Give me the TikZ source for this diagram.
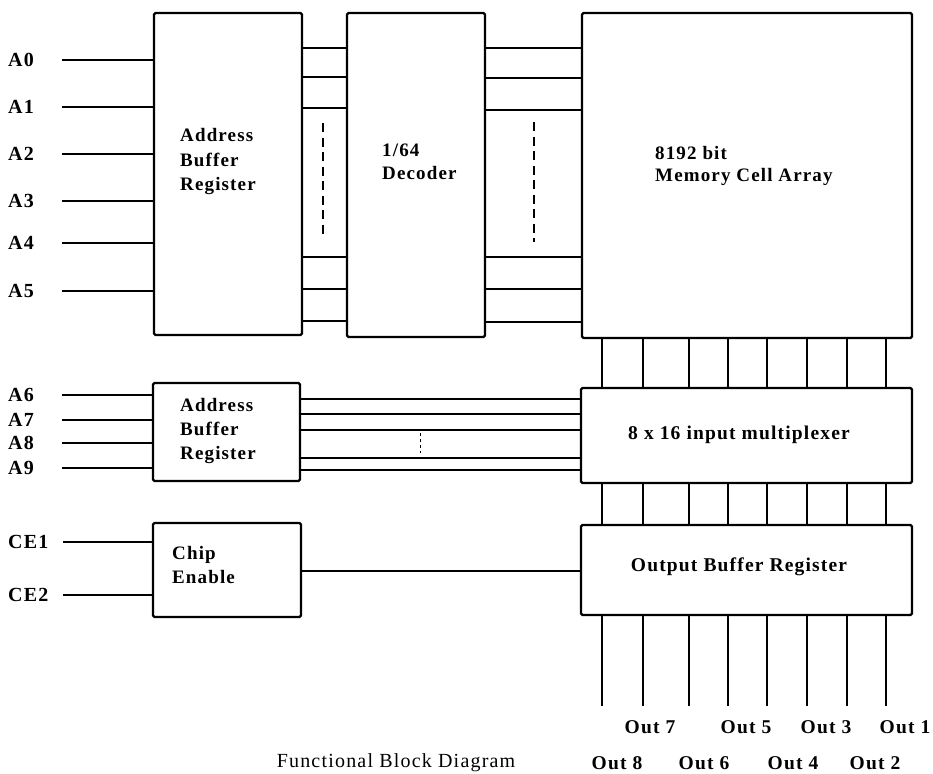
\documentclass[tikz,border=0pt]{standalone}
\usepackage{fontspec}
\setmainfont{Liberation Serif}
\newfontfamily\labfont[LetterSpace=6]{Liberation Serif}
\begin{document}
\begin{tikzpicture}[x=1pt,y=-1pt,
  box/.style={draw, line width=2.2pt, rounded corners=1.5pt, inner sep=0pt, outer sep=0pt, anchor=north west},
  wire/.style={line width=1.3pt},
  dots/.style={line width=1.3pt, dash pattern=on 9pt off 5.5pt},
  lab/.style={font=\labfont\bfseries\fontsize{20}{22}\selectfont, inner sep=0pt, anchor=west},
  bodytxt/.style={font=\labfont\bfseries\fontsize{19.5}{22}\selectfont, inner sep=0pt},
  txt/.style={inner sep=0pt, anchor=west, align=left},
  captionstyle/.style={font=\labfont\fontsize{20}{22}\selectfont, inner sep=0pt},
]
\useasboundingbox (0,0) rectangle (933,773);

% boxes
\node[box, minimum width=148pt, minimum height=322pt] (abr1) at (154,13) {};
\node[box, minimum width=138pt, minimum height=324pt] (dec) at (347,13) {};
\node[box, minimum width=330pt, minimum height=325pt] (mem) at (582,13) {};
\node[box, minimum width=147pt, minimum height=98pt] (abr2) at (153,383) {};
\node[box, minimum width=331pt, minimum height=95pt] (mux) at (581,388) {};
\node[box, minimum width=148pt, minimum height=94pt] (chip) at (153,523) {};
\node[box, minimum width=331pt, minimum height=90pt] (obr) at (581,525) {};

% box texts
\node[txt, font=\labfont\bfseries\fontsize{19}{24.5}\selectfont] (t1) at (180,162) {Address\\Buffer\\Register};
\node[txt, font=\labfont\bfseries\fontsize{19}{23}\selectfont] (t2) at (382,162) {1/64\\Decoder};
\node[txt, font=\labfont\bfseries\fontsize{19}{22}\selectfont] (t3) at (655,166) {8192 bit\\Memory Cell Array};
\node[txt, font=\labfont\bfseries\fontsize{19}{24}\selectfont] (t4) at (180,431) {Address\\Buffer\\Register};
\node[txt, font=\labfont\bfseries\fontsize{19}{24}\selectfont] (t5) at (172,565) {Chip\\Enable};
\node[bodytxt] (t6) at (739,435) {8 x 16 input multiplexer};
\node[bodytxt] (t7) at (739,567) {Output Buffer Register};

% helper coordinates for rows
\foreach \y in {48,77,78,108,110,257,289,321,322,399,414,430,458,470,571}
  \coordinate (r\y) at (0,\y);

% address inputs A0-A5
\foreach \n/\y in {0/60,1/107,2/154,3/201,4/243,5/291}{
  \node[lab] (lA\n) at (8,\y) {A\n};
  \coordinate (iA\n) at (62,\y);
  \draw[wire] (iA\n) -- (iA\n -| abr1.west);
}
% address inputs A6-A9
\foreach \n/\y in {6/395,7/420,8/443,9/468}{
  \node[lab] (lA\n) at (8,\y) {A\n};
  \coordinate (iA\n) at (62,\y);
  \draw[wire] (iA\n) -- (iA\n -| abr2.west);
}
% chip enable inputs
\foreach \n/\y in {1/542,2/595}{
  \node[lab] (lCE\n) at (8,\y) {CE\n};
  \coordinate (iCE\n) at (63,\y);
  \draw[wire] (iCE\n) -- (iCE\n -| chip.west);
}

% bus ABR -> decoder
\foreach \y in {48,77,108,257,289,321}
  \draw[wire] (abr1.east |- r\y) -- (dec.west |- r\y);
% bus decoder -> memory
\foreach \y in {48,78,110,257,289,322}
  \draw[wire] (dec.east |- r\y) -- (mem.west |- r\y);
% bus ABR2 -> mux
\foreach \y in {399,414,430,458,470}
  \draw[wire] (abr2.east |- r\y) -- (mux.west |- r\y);
% chip enable -> output buffer
\draw[wire] (chip.east |- r571) -- (obr.west |- r571);

% continuation marks
\draw[dots] (323,123) -- (323,238);
\draw[dots] (534,122) -- (534,242);
\draw[line width=1pt, dash pattern=on 3pt off 3pt] (420,433) -- (420,453);

% vertical links and outputs
\foreach \x in {602,643,689,728,767,807,847,886}{
  \coordinate (c\x) at (\x,0);
  \coordinate (o\x) at (\x,706);
  \draw[wire] (mem.south -| c\x) -- (mux.north -| c\x);
  \draw[wire] (mux.south -| c\x) -- (obr.north -| c\x);
  \draw[wire] (obr.south -| c\x) -- (o\x);
}

% output labels
\foreach \t/\x/\y in {7/650/727,5/746/727,3/826/727,1/905/727,8/617/763,6/704/763,4/793/763,2/875/763}
  \node[bodytxt] (out\t) at (\x,\y) {Out \t};

% caption
\node[captionstyle] (caption) at (396,763) {Functional Block Diagram};
\end{tikzpicture}
\end{document}
